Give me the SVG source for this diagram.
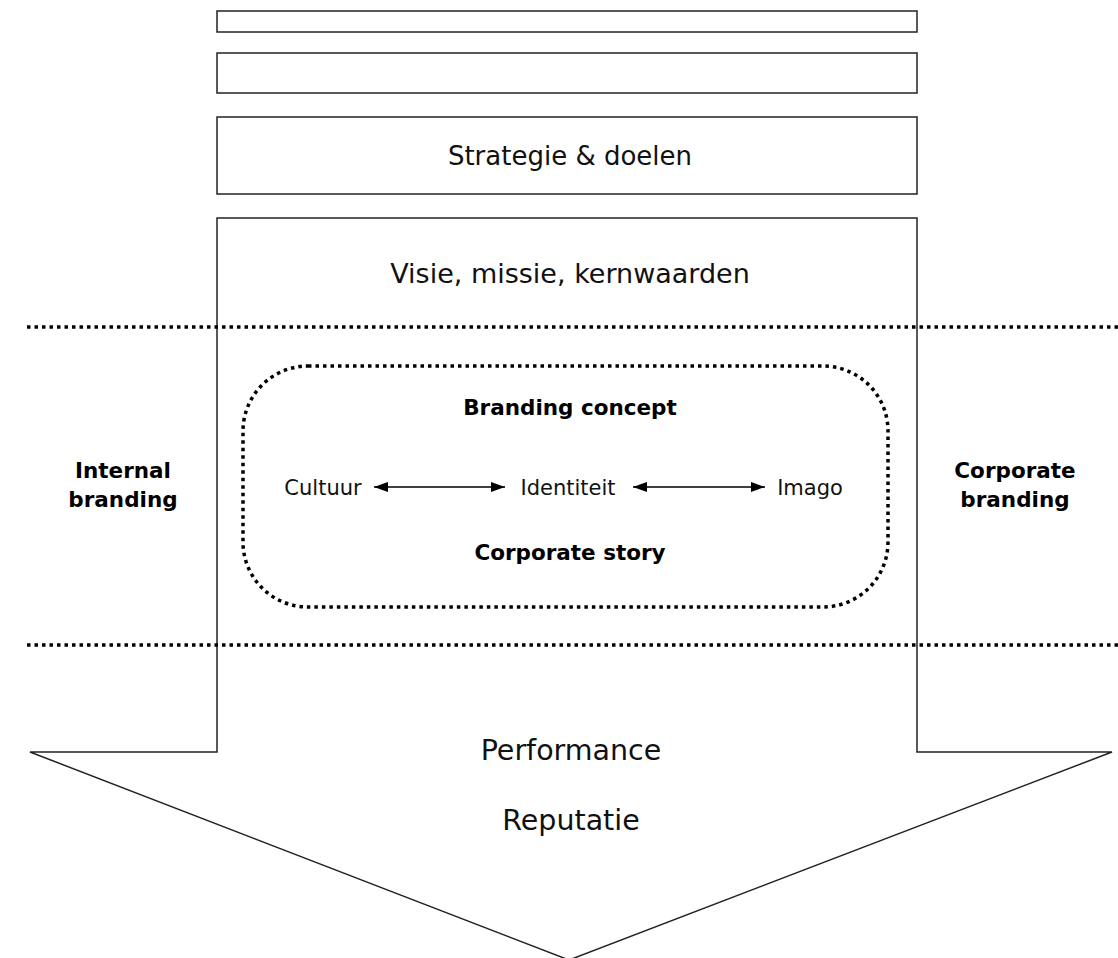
<svg xmlns="http://www.w3.org/2000/svg" width="1118" height="958" viewBox="0 0 1118 958">
<style>
.box{fill:#fff;stroke:#222;stroke-width:1.5}
.dot{fill:none;stroke:#000;stroke-width:3.5;stroke-dasharray:3.5 4}
.t{font-family:"DejaVu Sans",Verdana,sans-serif;fill:#111;text-anchor:middle}
.big{font-size:26px}
.mid{font-size:21px}
.b{font-size:21.5px;font-weight:bold;fill:#000}
.ar{stroke:#000;stroke-width:1.5;fill:none}
</style>
<defs>
<marker id="ah" viewBox="0 0 14 10" refX="14" refY="5" markerWidth="14" markerHeight="10" markerUnits="userSpaceOnUse" orient="auto-start-reverse">
<path d="M0,0 L14,5 L0,10 z" fill="#000"/>
</marker>
</defs>
<rect width="1118" height="958" fill="#fff"/>
<g id="arrow-body">
<polygon class="box" points="217,218 917,218 917,752 1112,752 569,960 30,752 217,752"/>
<text class="t big" x="570" y="283" style="font-size:27px">Visie, missie, kernwaarden</text>
<text class="t big" x="571" y="760" style="font-size:28.5px">Performance</text>
<text class="t big" x="571" y="830" style="font-size:28.5px">Reputatie</text>
</g>
<g id="box1"><rect class="box" x="217" y="11" width="700" height="21"/></g>
<g id="box2"><rect class="box" x="217" y="53" width="700" height="40"/></g>
<g id="box3"><rect class="box" x="217" y="117" width="700" height="77"/>
<text class="t big" x="570" y="165">Strategie &amp; doelen</text></g>
<g id="dividers">
<line class="dot" x1="27" y1="327" x2="1118" y2="327"/>
<line class="dot" x1="27" y1="645" x2="1118" y2="645"/>
</g>
<g id="internal"><text class="t b" x="123" y="478">Internal</text><text class="t b" x="123" y="507">branding</text></g>
<g id="corporate"><text class="t b" x="1015" y="478">Corporate</text><text class="t b" x="1015" y="507">branding</text></g>
<g id="concept">
<rect class="dot" x="243" y="366" width="645" height="241" rx="65" ry="65"/>
<text class="t b" x="570" y="415">Branding concept</text>
<text class="t b" x="570" y="560">Corporate story</text>
</g>
<g id="cultuur"><text class="t mid" x="323" y="495">Cultuur</text></g>
<g id="identiteit"><text class="t mid" x="568" y="495">Identiteit</text></g>
<g id="imago"><text class="t mid" x="810" y="495">Imago</text></g>
<g id="connectors">
<line class="ar" x1="374" y1="487" x2="505" y2="487" marker-start="url(#ah)" marker-end="url(#ah)"/>
<line class="ar" x1="633" y1="487" x2="765" y2="487" marker-start="url(#ah)" marker-end="url(#ah)"/>
</g>
</svg>
